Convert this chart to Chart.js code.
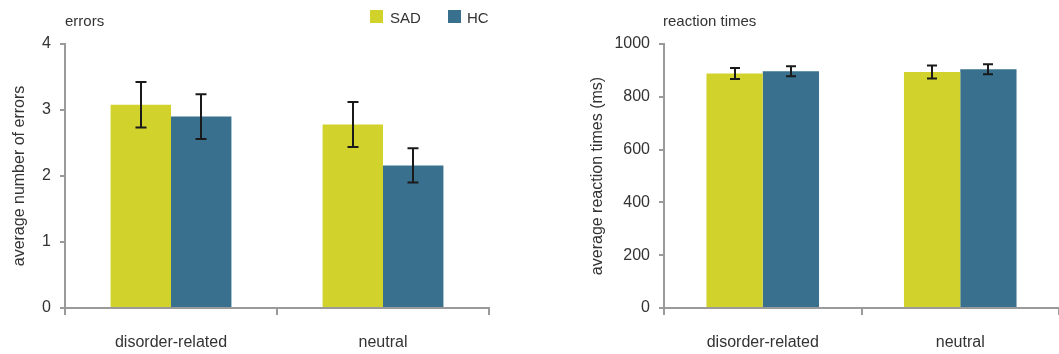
<!DOCTYPE html>
<html>
<head>
<meta charset="utf-8">
<script src="https://cdn.jsdelivr.net/npm/chart.js@4"></script>
<style>
  html, body { margin: 0; padding: 0; background: #fff; }
  #wrap { position: relative; width: 1059px; height: 354px; font-family: "Liberation Sans", Arial, sans-serif; color: #333; }
  canvas { position: absolute; top: 0; }
  .ttl { position: absolute; font-size: 15px; line-height: 15px; white-space: nowrap; }
  .leg { position: absolute; top: 10px; font-size: 15px; line-height: 15px; white-space: nowrap; }
  .leg i { position: absolute; top: 0; width: 13px; height: 13px; }
</style>
</head>
<body>
<div id="wrap">
  <canvas id="errChart" width="530" height="354" style="left:0"></canvas>
  <canvas id="rtChart" width="529" height="354" style="left:530px"></canvas>
  <div class="ttl" style="left:65px; top:13px">errors</div>
  <div class="ttl" style="left:663px; top:13px">reaction times</div>
  <div class="leg" style="left:370px"><i style="background:#d1d22c"></i><span style="margin-left:20px">SAD</span></div>
  <div class="leg" style="left:448px"><i style="background:#38708d"></i><span style="margin-left:19px">HC</span></div>
</div>
<script>
(() => {
  const categories = ['disorder-related', 'neutral'];
  const groups = ['SAD', 'HC'];

  // errors (mean, +/- error)
  const errSAD = [3.08, 2.78];
  const errSADbar = [0.345, 0.34];
  const errHC = [2.90, 2.16];
  const errHCbar = [0.34, 0.26];

  // reaction times in ms
  const rtSAD = [888, 894];
  const rtSADbar = [21, 25];
  const rtHC = [897, 904];
  const rtHCbar = [19, 19];

  const errTicks = [0, 1, 2, 3, 4];
  const rtTicks = [0, 200, 400, 600, 800, 1000];

  const colors = { SAD: '#d1d22c', HC: '#38708d' };
  const axisColor = '#9a9a9a';
  const textColor = '#333';
  const font = { family: '"Liberation Sans", Arial, sans-serif', size: 16 };

  const errorBars = {
    id: 'errorBars',
    afterDatasetsDraw(chart, args, opts) {
      const ctx = chart.ctx;
      const y = chart.scales.y;
      ctx.save();
      ctx.strokeStyle = '#1a1a1a';
      ctx.lineWidth = 2;
      chart.data.datasets.forEach((ds, i) => {
        const meta = chart.getDatasetMeta(i);
        meta.data.forEach((bar, j) => {
          const v = ds.data[j], e = ds.errs[j];
          const top = y.getPixelForValue(v + e);
          const bot = y.getPixelForValue(v - e);
          const x = Math.round(bar.x);
          const w = opts.cap / 2;
          ctx.beginPath();
          ctx.moveTo(x, top); ctx.lineTo(x, bot);
          ctx.moveTo(x - w, top); ctx.lineTo(x + w, top);
          ctx.moveTo(x - w, bot); ctx.lineTo(x + w, bot);
          ctx.stroke();
        });
      });
      ctx.restore();
    }
  };

  function makeChart(id, sad, sadErr, hc, hcErr, ticks, yTitle, pad, yWidth, cap) {
    return new Chart(document.getElementById(id), {
      type: 'bar',
      data: {
        labels: categories,
        datasets: [
          { label: groups[0], data: sad, errs: sadErr, backgroundColor: colors.SAD },
          { label: groups[1], data: hc, errs: hcErr, backgroundColor: colors.HC }
        ]
      },
      options: {
        responsive: false,
        animation: false,
        devicePixelRatio: 1,
        categoryPercentage: 0.57,
        barPercentage: 1,
        layout: { padding: pad },
        plugins: {
          legend: { display: false },
          tooltip: { enabled: false },
          errorBars: { cap }
        },
        scales: {
          x: {
            grid: { offset: true, drawOnChartArea: false, tickLength: 7, color: axisColor, lineWidth: 2 },
            border: { color: axisColor, width: 2 },
            ticks: { font, color: textColor, padding: 18, maxRotation: 0 },
            afterFit: s => { s.height = 46; }
          },
          y: {
            min: ticks[0],
            max: ticks[ticks.length - 1],
            afterBuildTicks: s => { s.ticks = ticks.map(v => ({ value: v })); },
            grid: { drawOnChartArea: false, tickLength: 5, color: axisColor, lineWidth: 2 },
            border: { color: axisColor, width: 2 },
            ticks: { font, color: textColor, padding: 9, callback: v => String(v) },
            title: { display: true, text: yTitle, font, color: textColor, padding: { top: 10, bottom: 0 } },
            afterFit: s => { s.width = yWidth; }
          }
        }
      },
      plugins: [errorBars]
    });
  }

  makeChart('errChart', errSAD, errSADbar, errHC, errHCbar, errTicks,
    'average number of errors', { top: 44, right: 41, bottom: 0, left: 0 }, 65, 11);
  makeChart('rtChart', rtSAD, rtSADbar, rtHC, rtHCbar, rtTicks,
    'average reaction times (ms)', { top: 44, right: 0, bottom: 0, left: 48 }, 86, 10);
})();
</script>
</body>
</html>
